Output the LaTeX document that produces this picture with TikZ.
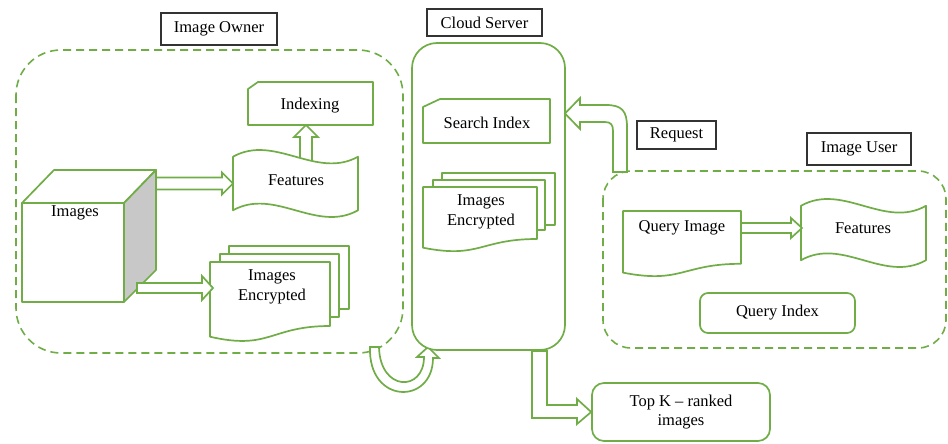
\documentclass[tikz,border=0pt]{standalone}
\usepackage{fontspec}
\setmainfont{Liberation Serif}
\usetikzlibrary{calc}
\definecolor{grn}{HTML}{70AD47}
\definecolor{sidegray}{HTML}{C8C8C8}
% tape shape (wavy top and bottom) drawn over the bounds of a named node
\newcommand\tapeshape[1]{\draw[shp] let \p1=(#1.south west), \p2=(#1.north east), \n1={\x2-\x1}, \n2={\y2-\y1} in
 (\x1,\y2-0.1*\n2) .. controls (\x1+\n1/3,\y2+0.246*\n2) and (\x1+2*\n1/3,\y2-0.446*\n2) .. (\x2,\y2-0.1*\n2)
 -- (\x2,\y1+0.1*\n2) .. controls (\x1+2*\n1/3,\y1-0.246*\n2) and (\x1+\n1/3,\y1+0.446*\n2) .. (\x1,\y1+0.1*\n2) -- cycle;}
% document shape (wavy bottom)
\newcommand\docshape[1]{\draw[shp] let \p1=(#1.south west), \p2=(#1.north east), \n1={\x2-\x1}, \n2={\y2-\y1} in
 (\x1,\y2) -- (\x2,\y2) -- (\x2,\y2-0.8*\n2) .. controls (\x1+0.5*\n1,\y2-0.8*\n2) and (\x1+0.5*\n1,\y2-1.107*\n2) .. (\x1,\y2-0.934*\n2) -- cycle;}
% card shape (top-left corner cut)
\newcommand\cardshape[3]{\draw[shp] let \p1=(#1.south west), \p2=(#1.north east) in
 (\x1,\y2-#3) -- (\x1+#2,\y2) -- (\x2,\y2) -- (\x2,\y1) -- (\x1,\y1) -- cycle;}
% hollow horizontal block arrow: tail, tip, shaft half, head half, head length
\newcommand\hblock[5]{\draw[barrow] let \p1=(#1), \p2=(#2) in
 (\x1,\y2+#3) -- (\x2-#5,\y2+#3) -- (\x2-#5,\y2+#4) -- (\x2,\y2) -- (\x2-#5,\y2-#4) -- (\x2-#5,\y2-#3) -- (\x1,\y2-#3) -- cycle;}
% hollow vertical (upward) block arrow
\newcommand\vblock[5]{\draw[barrow] let \p1=(#1), \p2=(#2) in
 (\x2-#3,\y1) -- (\x2-#3,\y2-#5) -- (\x2-#4,\y2-#5) -- (\x2,\y2) -- (\x2+#4,\y2-#5) -- (\x2+#3,\y2-#5) -- (\x2+#3,\y1) -- cycle;}
\begin{document}
\begin{tikzpicture}[x=1pt,y=-1pt,
  shp/.style={draw=grn, line width=1.7pt, fill=white, line join=round},
  sbox/.style={draw=none, inner sep=0pt, outer sep=0pt},
  region/.style={draw=grn, line width=1.6pt, dash pattern=on 8pt off 5pt},
  txt/.style={font=\fontsize{16.5}{19.5}\selectfont, align=center, inner sep=0pt, text=black},
  lbl/.style={draw=black!80, line width=1.3pt, fill=white, inner sep=0pt, font=\fontsize{16.5}{19.5}\selectfont, text=black},
  barrow/.style={draw=grn, line width=1.7pt, fill=white, line join=miter}]
\useasboundingbox (0,0) rectangle (948,444);

% regions
\draw[region, rounded corners=45pt] (16,50) rectangle (403,353);
\draw[region, rounded corners=28pt] (603,171) rectangle (946,348);

% label boxes
\node[lbl, minimum width=116pt, minimum height=32pt] (ownerlbl) at (219,29) {Image Owner};
\node[lbl, minimum width=115pt, minimum height=27pt] (cloudlbl) at (484.5,22.5) {Cloud Server};
\node[lbl, minimum width=79pt, minimum height=28pt] (reqlbl) at (676.5,135) {Request};
\node[lbl, minimum width=104pt, minimum height=32pt] (userlbl) at (859,149) {Image User};

% ---- Image owner ----
\node[sbox, minimum width=102pt, minimum height=99pt] (cube) at (73,252.5) {};
\draw[shp] (cube.north west) -- ++(32,-33) -- ++(102,0) -- (cube.north east) -- cycle;
\draw[shp, fill=sidegray] (cube.north east) -- ++(32,-33) -- ++(0,100) -- (cube.south east) -- cycle;
\draw[shp] (cube.north west) rectangle (cube.south east);
\node[txt] (imgtxt) at (75,213) {Images};

\coordinate (f1top) at (306,172);
\coordinate (idxbot) at (306,125);
\vblock{f1top}{idxbot}{6pt}{12pt}{12pt}

\node[sbox, minimum width=125pt, minimum height=67pt] (feat1) at (295.5,183.5) {};
\tapeshape{feat1}
\node[txt] (feat1txt) at (296,180) {Features};

\node[sbox, minimum width=125pt, minimum height=43pt] (idx) at (310.5,103.5) {};
\cardshape{idx}{10pt}{7pt}
\node[txt] (idxtxt) at (310,106) {Indexing};

\coordinate (cubeS1) at (156,183.5);
\hblock{cubeS1}{feat1.west}{6pt}{11pt}{11pt}

\node[shp, inner sep=0pt, minimum width=120pt, minimum height=63pt] (enc1c) at (289,277.5) {};
\node[shp, inner sep=0pt, minimum width=119pt, minimum height=63pt] (enc1b) at (279.5,285.5) {};
\node[sbox, minimum width=120pt, minimum height=80pt] (enc1) at (270,302) {};
\docshape{enc1}
\node[txt] (enc1txt) at (272,287) {Images\\Encrypted};

\coordinate (cubeS2) at (137,288);
\coordinate (enc1in) at (213,288);
\hblock{cubeS2}{enc1in}{5pt}{12pt}{11pt}

% U arrow owner -> cloud
\draw[barrow] (370,347) .. controls (368,405) and (433,405) .. (433,358) -- (439,358) -- (428,347) -- (417,357) -- (424,357) .. controls (424,392) and (380,392) .. (379,347) -- cycle;

% ---- Cloud server ----
\node[shp, rounded corners=25pt, minimum width=153pt, minimum height=307pt, inner sep=0pt] (server) at (488.5,196.5) {};
\node[sbox, minimum width=127pt, minimum height=44pt] (sidx) at (486.5,121) {};
\cardshape{sidx}{17pt}{8pt}
\node[txt] (sidxtxt) at (487,123) {Search Index};

\node[shp, inner sep=0pt, minimum width=113pt, minimum height=52pt] (enc2c) at (498.5,199) {};
\node[shp, inner sep=0pt, minimum width=112pt, minimum height=50pt] (enc2b) at (489,205) {};
\node[sbox, minimum width=114pt, minimum height=65pt] (enc2) at (480,219.5) {};
\docshape{enc2}
\node[txt] (enc2txt) at (481,212) {Images\\Encrypted};

% Request arrow user -> cloud
\draw[barrow] (627,172) -- (627,127) .. controls (627,111) and (622,105) .. (606,105) -- (580,105) -- (580,98) -- (565,113.5) -- (580,129) -- (580,122) -- (605,122) .. controls (611,122) and (613,125) .. (613,131) -- (613,172) -- cycle;

% ---- Image user ----
\node[sbox, minimum width=118pt, minimum height=66pt] (qimg) at (682,244) {};
\docshape{qimg}
\node[txt] (qimgtxt) at (682,228) {Query Image};

\node[sbox, minimum width=125pt, minimum height=68pt] (feat2) at (863.5,233) {};
\tapeshape{feat2}
\node[txt] (feat2txt) at (863,228) {Features};

\coordinate (qimgE) at (741,228);
\coordinate (feat2W) at (802,228);
\hblock{qimgE}{feat2W}{5pt}{10pt}{11pt}

\node[shp, txt, rounded corners=8pt, minimum width=155pt, minimum height=40pt] (qidx) at (777.5,313) {Query Index};

% ---- Top K ----
\node[shp, txt, rounded corners=12pt, minimum width=178pt, minimum height=58pt] (topk) at (681,412) {Top K – ranked\\images};
\draw[barrow] (532,351) -- (532,418) -- (577,418) -- (577,424) -- (topk.west) -- (577,399) -- (577,405) -- (547,405) -- (547,351) -- cycle;
\end{tikzpicture}
\end{document}
